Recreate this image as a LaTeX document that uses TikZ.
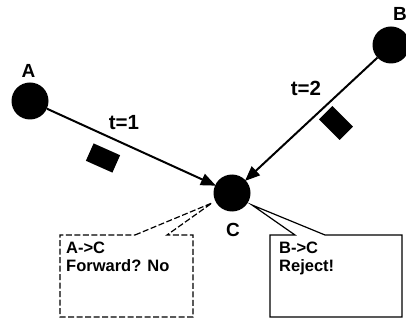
\documentclass[tikz,border=0pt]{standalone}
\usepackage{fontspec}
\setmainfont{Liberation Sans}
\usetikzlibrary{arrows.meta}
\begin{document}
\begin{tikzpicture}[x=1pt,y=-1pt,
  dot/.style={circle,fill=black,inner sep=0pt,minimum size=37pt},
  lbl/.style={font=\fontsize{19}{19}\selectfont\bfseries,inner sep=0pt},
  tlbl/.style={font=\fontsize{20.5}{20}\selectfont\bfseries,inner sep=0pt},
  pkt/.style={fill=black,inner sep=0pt,minimum width=29pt,minimum height=19pt},
  link/.style={line width=2pt,-{Triangle[length=15pt,width=12pt]},shorten >=-1pt},
  boxtxt/.style={font=\fontsize{16.5}{17.5}\selectfont\bfseries,align=left,anchor=north west,inner sep=0pt},
  callout/.style={line width=1.2pt}
]
\useasboundingbox (0,0) rectangle (406,320);
\node[dot] (A) at (30,101) {};
\node[dot] (B) at (391,45) {};
\node[dot] (C) at (232,193) {};
\node[lbl] (la) at (28.5,71) {A};
\node[lbl] (lb) at (400,14) {B};
\node[lbl] (lc) at (233,230) {C};
\node[tlbl] (t1) at (124,123) {t=1};
\node[tlbl] (t2) at (306,88) {t=2};
\node[pkt,rotate=-24] (p1) at (103,158) {};
\node[pkt,rotate=-45] (p2) at (336,123) {};
\draw[link] (A) -- (C);
\draw[link] (B) -- (C);
% callouts
\coordinate (ctipL) at (212,203);
\coordinate (ctipR) at (252,205);
\draw[callout,dash pattern=on 6pt off 2.5pt] (135,235) -- (ctipL) -- (167,235) -- (193,235) -- (193,317) -- (60,317) -- (60,235) -- cycle;
\draw[callout] (295,235) -- (ctipR) -- (325,235) -- (402,235) -- (402,317) -- (270,317) -- (270,235) -- cycle;
\node[boxtxt] (tl) at (66,242) {A->C\\Forward? No};
\node[boxtxt] (tr) at (279,242) {B->C\\Reject!};
\end{tikzpicture}
\end{document}
